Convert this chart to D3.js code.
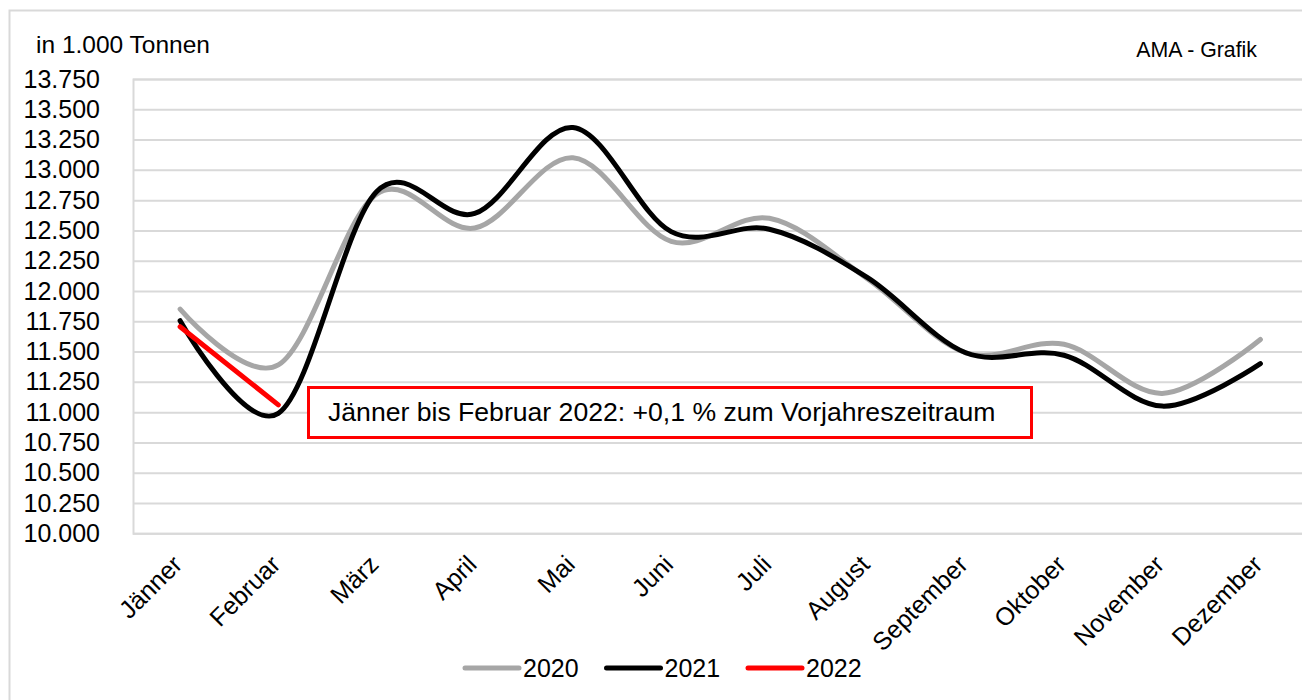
<!DOCTYPE html>
<html>
<head>
<meta charset="utf-8">
<script src="https://cdn.jsdelivr.net/npm/d3@7"></script>
<style>
  body { margin: 0; background: #fff; }
  svg { display: block; font-family: "Liberation Sans", Arial, sans-serif; }
</style>
</head>
<body>
<div class="canvas"></div>
<script>
// chart data (in 1.000 Tonnen)
const months = ['Jänner', 'Februar', 'März', 'April', 'Mai', 'Juni', 'Juli',
                'August', 'September', 'Oktober', 'November', 'Dezember'];
const values2020 = [11850, 11390, 12800, 12520, 13100, 12410, 12600, 12100, 11490, 11560, 11155, 11600];
const values2021 = [11755, 10990, 12820, 12640, 13350, 12490, 12510, 12110, 11490, 11470, 11050, 11400];
const values2022 = [11705, 11060];
const yTicks = [10000, 10250, 10500, 10750, 11000, 11250, 11500, 11750,
                12000, 12250, 12500, 12750, 13000, 13250, 13500, 13750];
const seriesNames = ['2020', '2021', '2022'];
const seriesColors = ['#a6a6a6', '#000000', '#ff0000'];
const note = 'Jänner bis Februar 2022: +0,1 % zum Vorjahreszeitraum';

const width = 1302, height = 700;

const svg = d3.select('.canvas')
    .append('svg')
    .attr('width', width)
    .attr('height', height);

// outer frame
svg.append('rect')
    .attr('x', 9.5).attr('y', 10.5)
    .attr('width', 1310).attr('height', 710)
    .attr('fill', 'none')
    .attr('stroke', '#d9d9d9')
    .attr('stroke-width', 2);

// scales
const x = d3.scalePoint().domain(months).range([131, 1309.5]).padding(0.5);
const y = d3.scaleLinear().domain([10000, 13750]).range([533.3, 79]);

// 13750 -> "13.750"
const tickFmt = v => {
    const s = String(v);
    return s.slice(0, s.length - 3) + '.' + s.slice(-3);
};

// y axis + grid lines
const yAxis = d3.axisLeft(y)
    .tickValues(yTicks)
    .tickSize(-(1310 - 133))
    .tickPadding(33)
    .tickFormat(tickFmt);

const yAxisGroup = svg.append('g')
    .attr('class', 'y-axis')
    .attr('transform', 'translate(133,0)')
    .call(yAxis);

yAxisGroup.select('.domain').attr('stroke', '#d9d9d9').attr('stroke-width', 2);
yAxisGroup.selectAll('.tick line').attr('stroke', '#d9d9d9').attr('stroke-width', 2);
yAxisGroup.selectAll('text')
    .attr('font-size', 25)
    .attr('font-family', '"Liberation Sans", Arial, sans-serif')
    .attr('fill', '#000');

// x axis labels, rotated
const xAxis = d3.axisBottom(x).tickSize(0).tickPadding(0);
const xAxisGroup = svg.append('g')
    .attr('class', 'x-axis')
    .attr('transform', 'translate(0,566)')
    .call(xAxis);
xAxisGroup.select('.domain').remove();
xAxisGroup.selectAll('text')
    .attr('font-size', 25)
    .attr('font-family', '"Liberation Sans", Arial, sans-serif')
    .attr('fill', '#000')
    .attr('text-anchor', 'end')
    .attr('dy', 0)
    .attr('y', 0)
    .attr('transform', 'translate(3,0) rotate(-45)');

// titles
svg.append('text')
    .attr('x', 36).attr('y', 53)
    .attr('font-size', 24.5)
    .text('in 1.000 Tonnen');

svg.append('text')
    .attr('x', 1257).attr('y', 57)
    .attr('text-anchor', 'end')
    .attr('font-size', 21.3)
    .text('AMA - Grafik');

// lines
const smooth = d3.line()
    .x((d, i) => x(months[i]))
    .y(d => y(d))
    .curve(d3.curveCardinal.tension(0));

const straight = d3.line()
    .x((d, i) => x(months[i]))
    .y(d => y(d));

const allSeries = [values2020, values2021, values2022];
allSeries.forEach((vals, i) => {
    svg.append('path')
        .datum(vals)
        .attr('fill', 'none')
        .attr('stroke', seriesColors[i])
        .attr('stroke-width', 5)
        .attr('stroke-linecap', 'round')
        .attr('stroke-linejoin', 'round')
        .attr('d', i === 2 ? straight : smooth);
});

// annotation box
svg.append('rect')
    .attr('x', 308.5).attr('y', 387.5)
    .attr('width', 723).attr('height', 50)
    .attr('fill', '#fff')
    .attr('stroke', '#ff0000')
    .attr('stroke-width', 3);

svg.append('text')
    .attr('x', 328).attr('y', 421)
    .attr('font-size', 26.6)
    .text(note);

// legend
const legend = svg.append('g').attr('class', 'legend');
seriesNames.forEach((name, i) => {
    const lx = 465 + i * 141.5;
    legend.append('line')
        .attr('x1', lx).attr('x2', lx + 54)
        .attr('y1', 668).attr('y2', 668)
        .attr('stroke', seriesColors[i])
        .attr('stroke-width', 5)
        .attr('stroke-linecap', 'round');
    legend.append('text')
        .attr('x', lx + 58).attr('y', 677)
        .attr('font-size', 25)
        .text(name);
});
</script>
</body>
</html>
